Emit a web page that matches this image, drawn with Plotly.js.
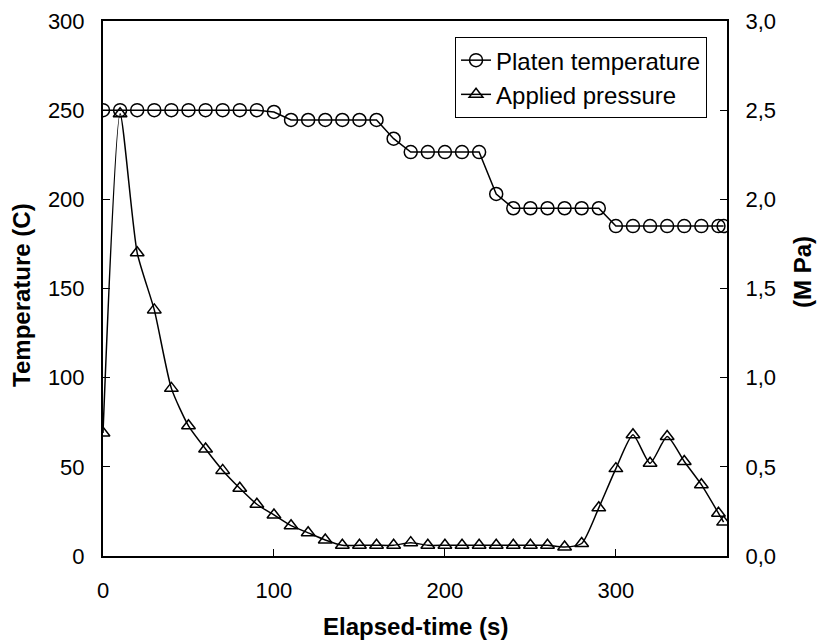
<!DOCTYPE html>
<html>
<head>
<meta charset="utf-8">
<script src="https://cdn.plot.ly/plotly-3.0.1.min.js"></script>
<style>html,body{margin:0;padding:0;background:#fff;}#chart{width:819px;height:643px;}</style>
</head>
<body>
<div id="chart"></div>
<script>
const timeTemp = [0,10,20,30,40,50,60,70,80,90,100,110,120,130,140,150,160,170,180,190,200,210,220,230,240,250,260,270,280,290,300,310,320,330,340,350,360,363];
const platenTemp = [250,250,250,250,250,250,250,250,250,250,249,244.5,244.5,244.5,244.5,244.5,244.5,234,226.5,226.5,226.5,226.5,226.5,203,195,195,195,195,195,195,185,185,185,185,185,185,185,185];
const timePress = [0,10,20,30,40,50,60,70,80,90,100,110,120,130,140,150,160,170,180,190,200,210,220,230,240,250,260,270,280,290,300,310,320,330,340,350,360,363];
const pressure = [0.69,2.48,1.70,1.38,0.94,0.73,0.60,0.48,0.38,0.29,0.23,0.17,0.13,0.09,0.06,0.06,0.06,0.06,0.075,0.06,0.06,0.06,0.06,0.06,0.06,0.06,0.06,0.05,0.07,0.27,0.49,0.68,0.52,0.67,0.53,0.40,0.24,0.19];
const xTicks = [0,100,200,300];
const xTitle = 'Elapsed-time (s)';
const yTitle = 'Temperature (C)';
const y2Title = '(M Pa)';

const FONT = 'Arial, "Liberation Sans", sans-serif';

const traces = [
  {
    x: timeTemp, y: platenTemp, name: 'Platen temperature', type: 'scatter', mode: 'lines+markers',
    line: {color: '#000', width: 1.5},
    marker: {symbol: 'circle-open', size: 13, color: '#000', line: {width: 1.5, color: '#000'}},
    yaxis: 'y'
  },
  {
    x: timePress, y: pressure, name: 'Applied pressure', type: 'scatter', mode: 'lines+markers',
    line: {color: '#000', width: 1.5, shape: 'spline', smoothing: 0.6},
    marker: {symbol: 'triangle-up-open', size: 12, color: '#000', line: {width: 1.5, color: '#000'}},
    yaxis: 'y2'
  }
];

const layout = {
  width: 819, height: 643,
  margin: {l: 103, r: 92, t: 21, b: 87},
  paper_bgcolor: '#fff', plot_bgcolor: '#fff',
  separators: ',.',
  font: {family: FONT, size: 22, color: '#000'},
  showlegend: true,
  legend: {
    x: 0.968, y: 0.97, xanchor: 'right', yanchor: 'top',
    bgcolor: '#fff', bordercolor: '#000', borderwidth: 1,
    font: {family: FONT, size: 24, color: '#000'},
    tracegroupgap: 0, itemwidth: 30
  },
  xaxis: {
    range: [0, 365], tickvals: xTicks, ticktext: xTicks.map(String),
    ticks: 'inside', ticklen: 7, tickwidth: 1, tickcolor: '#000',
    ticklabelstandoff: 14,
    showline: true, linecolor: '#000', linewidth: 2, mirror: true,
    showgrid: false, zeroline: false,
    tickfont: {family: FONT, size: 22}
  },
  yaxis: {
    range: [0, 300], dtick: 50, tick0: 0,
    ticks: 'inside', ticklen: 7, tickwidth: 1, tickcolor: '#000',
    ticklabelstandoff: 12,
    showline: true, linecolor: '#000', linewidth: 2, mirror: true,
    showgrid: false, zeroline: false,
    tickfont: {family: FONT, size: 22}
  },
  yaxis2: {
    range: [0, 3], dtick: 0.5, tick0: 0, tickformat: '.1f',
    overlaying: 'y', side: 'right',
    ticks: 'inside', ticklen: 7, tickwidth: 1, tickcolor: '#000',
    ticklabelstandoff: 12,
    showline: true, linecolor: '#000', linewidth: 2,
    showgrid: false, zeroline: false,
    tickfont: {family: FONT, size: 22}
  },
  annotations: [
    {text: '<b>' + xTitle + '</b>', xref: 'paper', yref: 'paper', x: 0.5, y: -0.132,
     xanchor: 'center', yanchor: 'middle', showarrow: false, font: {family: FONT, size: 24}},
    {text: '<b>' + yTitle + '</b>', xref: 'paper', yref: 'paper', x: -0.1298, y: 0.488,
     xanchor: 'center', yanchor: 'middle', textangle: -90, showarrow: false, font: {family: FONT, size: 24}},
    {text: '<b>' + y2Title + '</b>', xref: 'paper', yref: 'paper', x: 1.1218, y: 0.531,
     xanchor: 'center', yanchor: 'middle', textangle: -90, showarrow: false, font: {family: FONT, size: 24}}
  ]
};

Plotly.newPlot('chart', traces, layout, {staticPlot: true, displayModeBar: false});
</script>
</body>
</html>
